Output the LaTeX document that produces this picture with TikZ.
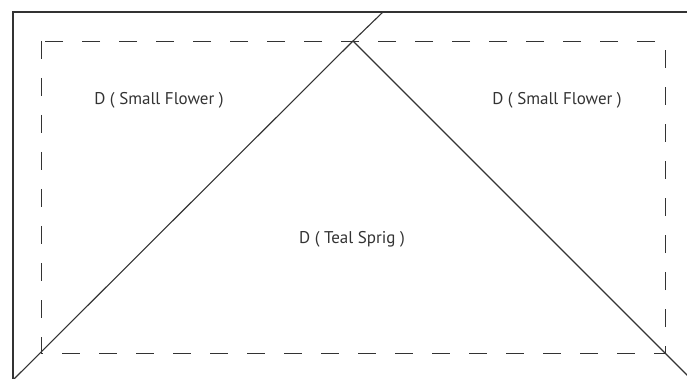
\documentclass[tikz,border=0pt]{standalone}
\usepackage{fontspec}
\setmainfont{PT Sans}
\definecolor{ink}{HTML}{333333}
\tikzset{
    patchlabel/.style={font=\fontsize{17}{19}\selectfont,text=ink,inner sep=0pt},
    seam/.style={ink,line width=1.1pt},
    sewline/.style={ink,line width=0.9pt,dash pattern=on 18pt off 19pt}
}
\begin{document}
\begin{tikzpicture}[x=1pt,y=-1pt,line cap=butt]
    \useasboundingbox (0,0) rectangle (687,379);
    \clip (0,0) rectangle (687,379);
    % block outline and dashed seam allowance
    \draw[seam] (13,400) -- (13,12) -- (700,12);
    \draw[sewline] (41,41) rectangle (665,353);
    % diagonal cuts
    \coordinate (apex) at (353,41);
    \coordinate (topcut) at (383,12);
    \coordinate (leftend) at (13,380);
    \coordinate (rightend) at (692,380);
    \draw[seam] (topcut) -- (apex) -- (leftend);
    \draw[seam] (apex) -- (rightend);
    \node[patchlabel] (flowerL) at (159,100) {D ( Small Flower )};
    \node[patchlabel] (flowerR) at (557,100) {D ( Small Flower )};
    \node[patchlabel] (sprig) at (352,239) {D ( Teal Sprig )};
\end{tikzpicture}
\end{document}
